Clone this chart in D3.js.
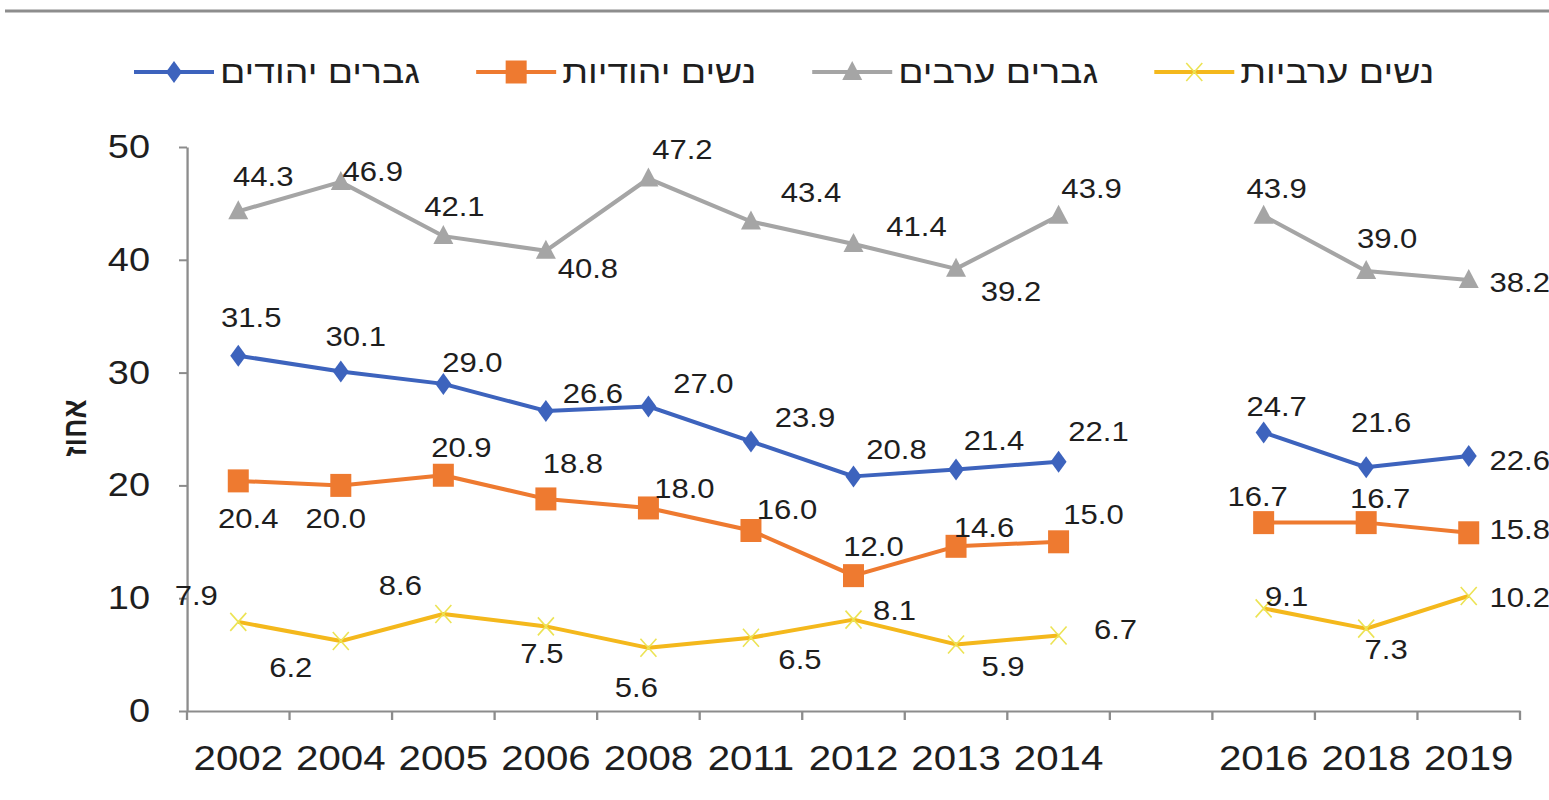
<!DOCTYPE html>
<html>
<head>
<meta charset="utf-8">
<script src="https://cdn.jsdelivr.net/npm/d3@7"></script>
<style>
  body { margin: 0; background: #fff; }
  text { font-family: "Liberation Sans", Arial, sans-serif; fill: #1e1e1e; }
</style>
</head>
<body>
<div id="chart"></div>
<script>
// categories (the empty one is the gap between 2014 and 2016)
const years = ["2002", "2004", "2005", "2006", "2008", "2011", "2012", "2013", "2014", "", "2016", "2018", "2019"];
const yTicks = [0, 10, 20, 30, 40, 50];

const jewishMen   = [31.5, 30.1, 29.0, 26.6, 27.0, 23.9, 20.8, 21.4, 22.1, null, 24.7, 21.6, 22.6];
const jewishWomen = [20.4, 20.0, 20.9, 18.8, 18.0, 16.0, 12.0, 14.6, 15.0, null, 16.7, 16.7, 15.8];
const arabMen     = [44.3, 46.9, 42.1, 40.8, 47.2, 43.4, 41.4, 39.2, 43.9, null, 43.9, 39.0, 38.2];
const arabWomen   = [7.9, 6.2, 8.6, 7.5, 5.6, 6.5, 8.1, 5.9, 6.7, null, 9.1, 7.3, 10.2];

const seriesNames = ["גברים יהודים", "נשים יהודיות", "גברים ערבים", "נשים ערביות"];
const yTitle = "אחוז";

// where each value label sits relative to its point (pixels)
const offsJM = [[13,-38],[15,-35],[29,-22],[47,-18],[55,-23],[54,-24],[43,-27],[38,-29],[40,-30],null,[13,-26],[15,-45],[51,4]];
const offsJW = [[10,37],[-5,33],[18,-28],[27,-36],[36,-20],[36,-21],[20,-29],[28,-19],[35,-28],null,[-6,-26],[14,-24],[51,-3]];
const offsAM = [[25,-35],[32,-11],[11,-30],[42,18],[34,-29],[60,-29],[63,-18],[55,22],[33,-28],null,[13,-28],[21,-33],[51,2]];
const offsAW = [[-42,-27],[-50,26],[-43,-29],[-4,27],[-12,39],[49,22],[41,-9],[47,22],[57,-6],null,[23,-12],[20,21],[51,1]];

const width = 1549;
const height = 800;
const SX = 1.15;            // the original picture is stretched sideways
const px = v => v / SX;

// marker shapes
const diamond = { draw(c) { c.moveTo(0, -11); c.lineTo(8, 0); c.lineTo(0, 11); c.lineTo(-8, 0); c.closePath(); } };
const square  = { draw(c) { c.rect(-10.5, -11.5, 21, 23); } };
const triangle = { draw(c) { c.moveTo(0, -11); c.lineTo(10, 8); c.lineTo(-10, 8); c.closePath(); } };
const cross = { draw(c) { c.moveTo(-8, -9); c.lineTo(8, 9); c.moveTo(8, -9); c.lineTo(-8, 9); } };

const series = [
  { name: seriesNames[0], values: jewishMen,   offs: offsJM, color: "#3d63bd", marker: diamond,  mfill: "#3d63bd", mstroke: "none" },
  { name: seriesNames[1], values: jewishWomen, offs: offsJW, color: "#ee7a30", marker: square,   mfill: "#ee7a30", mstroke: "none" },
  { name: seriesNames[2], values: arabMen,     offs: offsAM, color: "#a5a5a5", marker: triangle, mfill: "#a5a5a5", mstroke: "none" },
  { name: seriesNames[3], values: arabWomen,   offs: offsAW, color: "#f4b81c", marker: cross,    mfill: "none",    mstroke: "#ece354" }
];

const svg = d3.select("#chart")
  .append("svg")
  .attr("width", width)
  .attr("height", height);

const g = svg.append("g").attr("transform", `scale(${SX},1)`);

// top rule
g.append("line")
  .attr("x1", px(5)).attr("x2", px(1549))
  .attr("y1", 11).attr("y2", 11)
  .attr("stroke", "#8d8d8d").attr("stroke-width", 3);

const x = d3.scaleBand().domain(years).range([px(187), px(1520)]);
const cx = i => x(years[i]) + x.bandwidth() / 2;
const y = d3.scaleLinear().domain([0, 50]).range([711, 147]);

// y axis
const yAxis = g.append("g")
  .attr("transform", `translate(${px(187)},0)`)
  .call(d3.axisLeft(y).tickValues(yTicks).tickSize(px(8)).tickPadding(px(29)).tickSizeOuter(0));
yAxis.select(".domain").attr("stroke", "#8c8c8c").attr("stroke-width", 2);
yAxis.selectAll(".tick line").attr("stroke", "#8c8c8c").attr("stroke-width", 2);
yAxis.selectAll("text").style("font-size", "33px").attr("fill", "#1e1e1e");

// x axis: labels in band centres, ticks on band edges
const xAxis = g.append("g")
  .attr("transform", "translate(0,711)")
  .call(d3.axisBottom(x).tickSize(0).tickPadding(34).tickSizeOuter(0));
xAxis.select(".domain").attr("stroke", "#8c8c8c").attr("stroke-width", 2);
xAxis.selectAll("text").style("font-size", "35px").attr("fill", "#1e1e1e");

g.append("g").selectAll("line")
  .data(years.map(d => x(d)).concat([x.range()[1]]))
  .enter().append("line")
  .attr("x1", d => d).attr("x2", d => d)
  .attr("y1", 711).attr("y2", 720)
  .attr("stroke", "#8c8c8c").attr("stroke-width", 2);

// y title
g.append("text")
  .attr("transform", `translate(${px(86)},428) rotate(-90)`)
  .attr("text-anchor", "middle")
  .style("font-size", "28px")
  .style("font-weight", "bold")
  .text(yTitle);

// lines, markers, labels
const line = d3.line()
  .defined(d => d.v != null)
  .x(d => cx(d.i))
  .y(d => y(d.v));

series.forEach(s => {
  const pts = s.values.map((v, i) => ({ v, i }));
  g.append("path")
    .datum(pts)
    .attr("d", line)
    .attr("fill", "none")
    .attr("stroke", s.color)
    .attr("stroke-width", 4)
    .attr("stroke-linejoin", "round");

  g.append("g").selectAll("path")
    .data(pts.filter(d => d.v != null))
    .enter().append("path")
    .attr("transform", d => `translate(${cx(d.i)},${y(d.v)}) scale(${1 / SX},1)`)
    .attr("d", d3.symbol().type(s.marker))
    .attr("fill", s.mfill)
    .attr("stroke", s.mstroke)
    .attr("stroke-width", 1.6);

  g.append("g").selectAll("text")
    .data(pts.filter(d => d.v != null))
    .enter().append("text")
    .attr("x", d => cx(d.i) + px(s.offs[d.i][0]))
    .attr("y", d => y(d.v) + s.offs[d.i][1] + 0.36 * 27)
    .attr("text-anchor", "middle")
    .style("font-size", "27px")
    .text(d => d.v.toFixed(1));
});

// legend
let lx = px(134);
const ly = 72;
series.forEach(s => {
  const item = g.append("g");
  item.append("line")
    .attr("x1", lx).attr("x2", lx + px(80))
    .attr("y1", ly).attr("y2", ly)
    .attr("stroke", s.color).attr("stroke-width", 4);
  item.append("path")
    .attr("transform", `translate(${lx + px(40)},${ly}) scale(${1 / SX},1)`)
    .attr("d", d3.symbol().type(s.marker))
    .attr("fill", s.mfill)
    .attr("stroke", s.mstroke)
    .attr("stroke-width", 1.6);
  const t = item.append("text")
    .attr("x", lx + px(86))
    .attr("y", ly + 11)
    .attr("text-anchor", "start")
    .style("font-size", "32.5px")
    .text(s.name);
  lx += px(86) + t.node().getComputedTextLength() + px(56);
});
</script>
</body>
</html>
